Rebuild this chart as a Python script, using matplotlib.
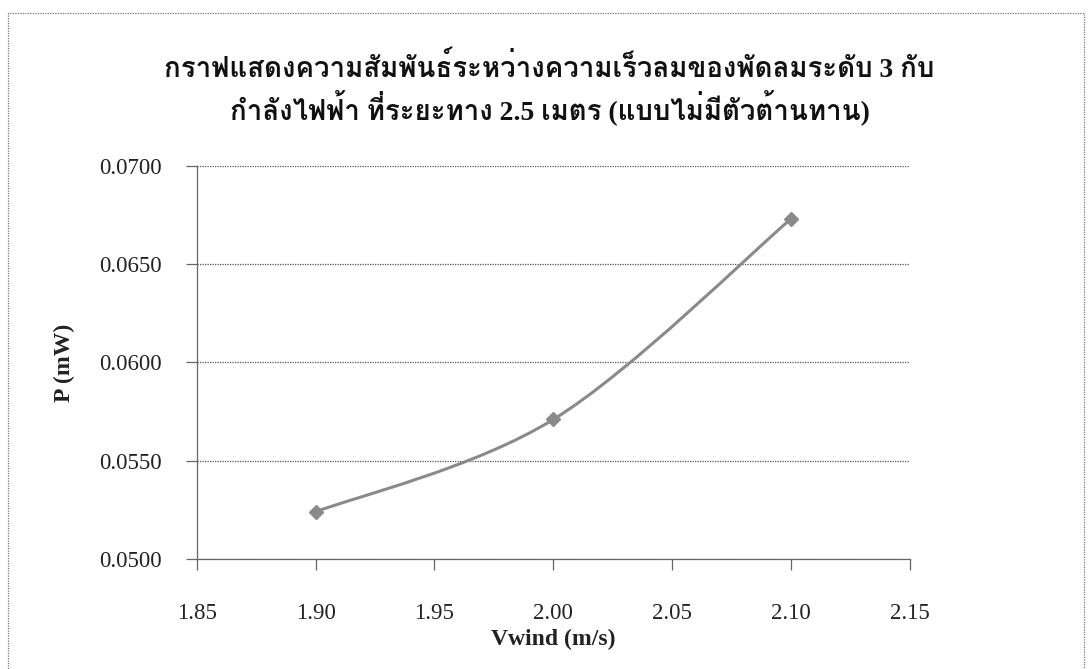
import matplotlib
matplotlib.use("Agg")
import matplotlib.pyplot as plt
from matplotlib.path import Path
from matplotlib.patches import PathPatch, Rectangle

# data
vwind = [1.90, 2.00, 2.10]
power = [0.0524, 0.0571, 0.0673]
x_ticks = [1.85, 1.90, 1.95, 2.00, 2.05, 2.10, 2.15]
y_ticks = [0.0500, 0.0550, 0.0600, 0.0650, 0.0700]
title_1 = "กราฟแสดงความสัมพันธ์ระหว่างความเร็วลมของพัดลมระดับ 3 กับ"
title_2 = "กำลังไฟฟ้า ที่ระยะทาง 2.5 เมตร (แบบไม่มีตัวต้านทาน)"

plt.rcParams['font.family'] = ['Liberation Serif', 'DejaVu Serif']
thai_family = ['Liberation Serif', 'Loma', 'Sarabun']

fig = plt.figure(figsize=(10.88, 6.69), dpi=100)
ax = fig.add_axes([0.181, 0.1644, 0.655, 0.5875])

# Excel style smoothed line (Catmull-Rom -> Bezier)
pts = list(zip(vwind, power))
verts = [pts[0]]
codes = [Path.MOVETO]
for i in range(len(pts) - 1):
    p0 = pts[max(i - 1, 0)]
    p1 = pts[i]
    p2 = pts[i + 1]
    p3 = pts[min(i + 2, len(pts) - 1)]
    c1 = (p1[0] + (p2[0] - p0[0]) / 6, p1[1] + (p2[1] - p0[1]) / 6)
    c2 = (p2[0] - (p3[0] - p1[0]) / 6, p2[1] - (p3[1] - p1[1]) / 6)
    verts += [c1, c2, p2]
    codes += [Path.CURVE4] * 3
ax.add_patch(PathPatch(Path(verts, codes), fill=False, edgecolor='#8a8a8a', lw=2.2, zorder=3))
ax.plot(vwind, power, 'D', color='#8a8a8a', ms=7, zorder=4)

ax.set_xlim(1.85, 2.15)
ax.set_ylim(0.05, 0.07)
ax.set_xticks(x_ticks)
ax.set_xticklabels(["%.2f" % v for v in x_ticks])
ax.set_yticks(y_ticks)
ax.set_yticklabels(["%.4f" % v for v in y_ticks])
ax.grid(axis='y', color='#555555', ls=(0, (1, 1)), lw=0.9)
for s in ['top', 'right']:
    ax.spines[s].set_visible(False)
for s in ['left', 'bottom']:
    ax.spines[s].set_color('#666666')
    ax.spines[s].set_linestyle((0, (1, 1)))
    ax.spines[s].set_linewidth(0.9)
ax.tick_params(axis='both', direction='out', length=8, width=0.9, color='#666666',
               labelsize=16.5, labelcolor='#222222')
ax.tick_params(axis='x', pad=24)
ax.tick_params(axis='y', pad=17)

ax.set_xlabel('Vwind (m/s)', fontsize=17, fontweight='bold', color='#222222')
ax.set_ylabel('P (mW)', fontsize=17, fontweight='bold', color='#222222')
ax.xaxis.set_label_coords(0.5, -0.178)
ax.yaxis.set_label_coords(-0.171, 0.5)

t1 = fig.text(0.505, 0.898, title_1, ha='center', va='center', fontsize=20,
              fontweight='bold', color='#111111', family=thai_family)
t2 = fig.text(0.505, 0.839, title_2, ha='center', va='center', fontsize=20,
              fontweight='bold', color='#111111', family=thai_family)

# fit the first title line to its width in the reference (~772 px)
fig.canvas.draw()
w = t1.get_window_extent().width
size = 20 * 772 / w
t1.set_fontsize(size)
t2.set_fontsize(size)

# dotted outer chart border
fig.patches.append(Rectangle((8 / 1088, -0.05), 1076 / 1088, 1 - 13 / 669 + 0.05,
                             transform=fig.transFigure, fill=False, edgecolor='#777777',
                             ls=(0, (1, 1)), lw=0.9))

fig.savefig('out.png', dpi=100)
